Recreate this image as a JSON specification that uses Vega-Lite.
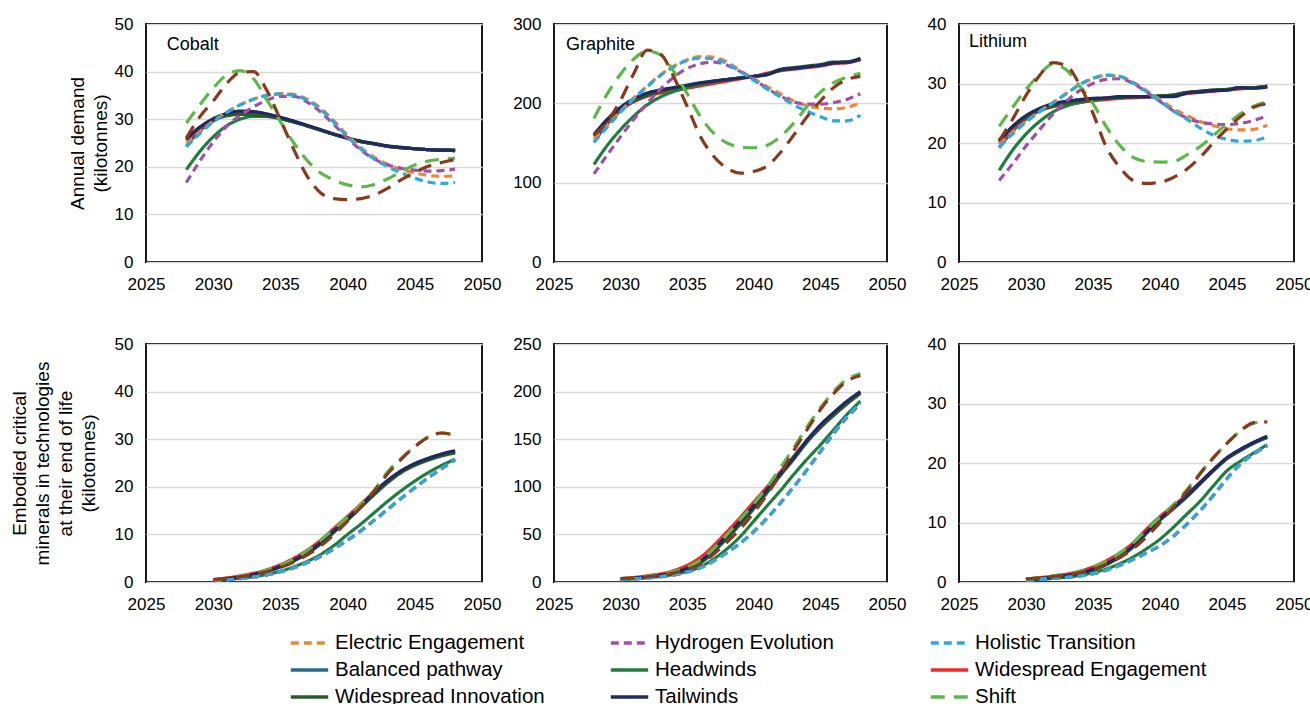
{
"$schema": "https://vega.github.io/schema/vega-lite/v6.json",
"padding": {"left": 9, "top": 14, "right": 0, "bottom": 0},
"config": {
  "font": "Liberation Sans",
  "view": {"stroke": "#000", "strokeWidth": 1.8},
  "axis": {"domain": false, "ticks": false, "labelFlush": false, "labelFontSize": 17, "labelColor": "#000", "titleFontSize": 19, "titleFontWeight": "normal", "titleColor": "#000", "titleLineHeight": 23},
  "axisX": {"grid": false, "labelPadding": 14},
  "axisY": {"grid": true, "gridColor": "#D9D9D9", "gridWidth": 1.3, "labelPadding": 13, "titlePadding": 6},
  "legend": {"symbolType": "stroke", "symbolSize": 1400, "symbolStrokeWidth": 3.5, "labelFontSize": 20.5, "labelColor": "#000", "labelOffset": 5, "labelLimit": 400, "rowPadding": 1, "clipHeight": 26, "columnPadding": 42, "gridAlign": "all"}
},
"data": {"values": [
{"p":"C1","s":"BP","x":2028,"y":24.3},{"p":"C1","s":"BP","x":2029,"y":27.5},{"p":"C1","s":"BP","x":2030,"y":29.6},{"p":"C1","s":"BP","x":2031,"y":30.9},{"p":"C1","s":"BP","x":2032,"y":31.5},{"p":"C1","s":"BP","x":2033,"y":31.5},{"p":"C1","s":"BP","x":2034,"y":31},{"p":"C1","s":"BP","x":2035,"y":30.3},{"p":"C1","s":"BP","x":2036,"y":29.5},{"p":"C1","s":"BP","x":2037,"y":28.6},{"p":"C1","s":"BP","x":2038,"y":27.7},{"p":"C1","s":"BP","x":2039,"y":26.8},{"p":"C1","s":"BP","x":2040,"y":26},{"p":"C1","s":"BP","x":2041,"y":25.3},{"p":"C1","s":"BP","x":2042,"y":24.8},{"p":"C1","s":"BP","x":2043,"y":24.3},{"p":"C1","s":"BP","x":2044,"y":24},{"p":"C1","s":"BP","x":2045,"y":23.8},{"p":"C1","s":"BP","x":2046,"y":23.6},{"p":"C1","s":"BP","x":2047,"y":23.5},{"p":"C1","s":"BP","x":2048,"y":23.5},
{"p":"C1","s":"WE","x":2028,"y":25.5},{"p":"C1","s":"WE","x":2029,"y":28},{"p":"C1","s":"WE","x":2030,"y":29.9},{"p":"C1","s":"WE","x":2031,"y":31},{"p":"C1","s":"WE","x":2032,"y":31.5},{"p":"C1","s":"WE","x":2033,"y":31.4},{"p":"C1","s":"WE","x":2034,"y":31},{"p":"C1","s":"WE","x":2035,"y":30.3},{"p":"C1","s":"WE","x":2036,"y":29.5},{"p":"C1","s":"WE","x":2037,"y":28.6},{"p":"C1","s":"WE","x":2038,"y":27.7},{"p":"C1","s":"WE","x":2039,"y":26.8},{"p":"C1","s":"WE","x":2040,"y":26},{"p":"C1","s":"WE","x":2041,"y":25.3},{"p":"C1","s":"WE","x":2042,"y":24.8},{"p":"C1","s":"WE","x":2043,"y":24.3},{"p":"C1","s":"WE","x":2044,"y":24},{"p":"C1","s":"WE","x":2045,"y":23.8},{"p":"C1","s":"WE","x":2046,"y":23.6},{"p":"C1","s":"WE","x":2047,"y":23.5},{"p":"C1","s":"WE","x":2048,"y":23.4},
{"p":"C1","s":"HW","x":2028,"y":19.4},{"p":"C1","s":"HW","x":2029,"y":23.2},{"p":"C1","s":"HW","x":2030,"y":26.3},{"p":"C1","s":"HW","x":2031,"y":28.6},{"p":"C1","s":"HW","x":2032,"y":30},{"p":"C1","s":"HW","x":2033,"y":30.6},{"p":"C1","s":"HW","x":2034,"y":30.6},{"p":"C1","s":"HW","x":2035,"y":30.2},{"p":"C1","s":"HW","x":2036,"y":29.4},{"p":"C1","s":"HW","x":2037,"y":28.6},{"p":"C1","s":"HW","x":2038,"y":27.7},{"p":"C1","s":"HW","x":2039,"y":26.8},{"p":"C1","s":"HW","x":2040,"y":26},{"p":"C1","s":"HW","x":2041,"y":25.3},{"p":"C1","s":"HW","x":2042,"y":24.8},{"p":"C1","s":"HW","x":2043,"y":24.3},{"p":"C1","s":"HW","x":2044,"y":24},{"p":"C1","s":"HW","x":2045,"y":23.8},{"p":"C1","s":"HW","x":2046,"y":23.6},{"p":"C1","s":"HW","x":2047,"y":23.5},{"p":"C1","s":"HW","x":2048,"y":23.4},
{"p":"C1","s":"WI","x":2028,"y":26},{"p":"C1","s":"WI","x":2029,"y":28.3},{"p":"C1","s":"WI","x":2030,"y":29.9},{"p":"C1","s":"WI","x":2031,"y":30.7},{"p":"C1","s":"WI","x":2032,"y":31},{"p":"C1","s":"WI","x":2033,"y":30.9},{"p":"C1","s":"WI","x":2034,"y":30.6},{"p":"C1","s":"WI","x":2035,"y":30.1},{"p":"C1","s":"WI","x":2036,"y":29.4},{"p":"C1","s":"WI","x":2037,"y":28.6},{"p":"C1","s":"WI","x":2038,"y":27.7},{"p":"C1","s":"WI","x":2039,"y":26.8},{"p":"C1","s":"WI","x":2040,"y":26},{"p":"C1","s":"WI","x":2041,"y":25.3},{"p":"C1","s":"WI","x":2042,"y":24.8},{"p":"C1","s":"WI","x":2043,"y":24.3},{"p":"C1","s":"WI","x":2044,"y":24},{"p":"C1","s":"WI","x":2045,"y":23.8},{"p":"C1","s":"WI","x":2046,"y":23.6},{"p":"C1","s":"WI","x":2047,"y":23.5},{"p":"C1","s":"WI","x":2048,"y":23.4},
{"p":"C1","s":"TW","x":2028,"y":25.8},{"p":"C1","s":"TW","x":2029,"y":28.3},{"p":"C1","s":"TW","x":2030,"y":30.1},{"p":"C1","s":"TW","x":2031,"y":31.2},{"p":"C1","s":"TW","x":2032,"y":31.7},{"p":"C1","s":"TW","x":2033,"y":31.6},{"p":"C1","s":"TW","x":2034,"y":31.1},{"p":"C1","s":"TW","x":2035,"y":30.4},{"p":"C1","s":"TW","x":2036,"y":29.6},{"p":"C1","s":"TW","x":2037,"y":28.7},{"p":"C1","s":"TW","x":2038,"y":27.8},{"p":"C1","s":"TW","x":2039,"y":26.9},{"p":"C1","s":"TW","x":2040,"y":26.1},{"p":"C1","s":"TW","x":2041,"y":25.4},{"p":"C1","s":"TW","x":2042,"y":24.9},{"p":"C1","s":"TW","x":2043,"y":24.4},{"p":"C1","s":"TW","x":2044,"y":24.1},{"p":"C1","s":"TW","x":2045,"y":23.8},{"p":"C1","s":"TW","x":2046,"y":23.6},{"p":"C1","s":"TW","x":2047,"y":23.5},{"p":"C1","s":"TW","x":2048,"y":23.5},
{"p":"C1","s":"EE","x":2028,"y":24.8},{"p":"C1","s":"EE","x":2029,"y":27.3},{"p":"C1","s":"EE","x":2030,"y":29.6},{"p":"C1","s":"EE","x":2031,"y":31.5},{"p":"C1","s":"EE","x":2032,"y":33},{"p":"C1","s":"EE","x":2033,"y":34.2},{"p":"C1","s":"EE","x":2034,"y":35},{"p":"C1","s":"EE","x":2035,"y":35.4},{"p":"C1","s":"EE","x":2036,"y":35.2},{"p":"C1","s":"EE","x":2037,"y":34.2},{"p":"C1","s":"EE","x":2038,"y":32.3},{"p":"C1","s":"EE","x":2039,"y":29.6},{"p":"C1","s":"EE","x":2040,"y":26.6},{"p":"C1","s":"EE","x":2041,"y":24},{"p":"C1","s":"EE","x":2042,"y":22},{"p":"C1","s":"EE","x":2043,"y":20.5},{"p":"C1","s":"EE","x":2044,"y":19.4},{"p":"C1","s":"EE","x":2045,"y":18.7},{"p":"C1","s":"EE","x":2046,"y":18.2},{"p":"C1","s":"EE","x":2047,"y":18},{"p":"C1","s":"EE","x":2048,"y":18.1},
{"p":"C1","s":"HE","x":2028,"y":16.7},{"p":"C1","s":"HE","x":2029,"y":21.2},{"p":"C1","s":"HE","x":2030,"y":25.2},{"p":"C1","s":"HE","x":2031,"y":28.5},{"p":"C1","s":"HE","x":2032,"y":30.8},{"p":"C1","s":"HE","x":2033,"y":32.6},{"p":"C1","s":"HE","x":2034,"y":34},{"p":"C1","s":"HE","x":2035,"y":34.8},{"p":"C1","s":"HE","x":2036,"y":34.8},{"p":"C1","s":"HE","x":2037,"y":33.6},{"p":"C1","s":"HE","x":2038,"y":31.5},{"p":"C1","s":"HE","x":2039,"y":28.8},{"p":"C1","s":"HE","x":2040,"y":26},{"p":"C1","s":"HE","x":2041,"y":23.5},{"p":"C1","s":"HE","x":2042,"y":21.6},{"p":"C1","s":"HE","x":2043,"y":20.4},{"p":"C1","s":"HE","x":2044,"y":19.7},{"p":"C1","s":"HE","x":2045,"y":19.3},{"p":"C1","s":"HE","x":2046,"y":19.1},{"p":"C1","s":"HE","x":2047,"y":19.2},{"p":"C1","s":"HE","x":2048,"y":19.5},
{"p":"C1","s":"HT","x":2028,"y":24.2},{"p":"C1","s":"HT","x":2029,"y":27},{"p":"C1","s":"HT","x":2030,"y":29.4},{"p":"C1","s":"HT","x":2031,"y":31.4},{"p":"C1","s":"HT","x":2032,"y":33},{"p":"C1","s":"HT","x":2033,"y":34.2},{"p":"C1","s":"HT","x":2034,"y":35},{"p":"C1","s":"HT","x":2035,"y":35.3},{"p":"C1","s":"HT","x":2036,"y":35},{"p":"C1","s":"HT","x":2037,"y":34},{"p":"C1","s":"HT","x":2038,"y":32},{"p":"C1","s":"HT","x":2039,"y":29.3},{"p":"C1","s":"HT","x":2040,"y":26.3},{"p":"C1","s":"HT","x":2041,"y":23.7},{"p":"C1","s":"HT","x":2042,"y":21.6},{"p":"C1","s":"HT","x":2043,"y":20},{"p":"C1","s":"HT","x":2044,"y":18.7},{"p":"C1","s":"HT","x":2045,"y":17.6},{"p":"C1","s":"HT","x":2046,"y":16.8},{"p":"C1","s":"HT","x":2047,"y":16.5},{"p":"C1","s":"HT","x":2048,"y":16.7},
{"p":"C1","s":"SH","x":2028,"y":29.2},{"p":"C1","s":"SH","x":2029,"y":33},{"p":"C1","s":"SH","x":2030,"y":36.5},{"p":"C1","s":"SH","x":2031,"y":39.3},{"p":"C1","s":"SH","x":2032,"y":40.2},{"p":"C1","s":"SH","x":2033,"y":38.5},{"p":"C1","s":"SH","x":2034,"y":34},{"p":"C1","s":"SH","x":2035,"y":29.5},{"p":"C1","s":"SH","x":2036,"y":25},{"p":"C1","s":"SH","x":2037,"y":21.3},{"p":"C1","s":"SH","x":2038,"y":18.7},{"p":"C1","s":"SH","x":2039,"y":17.2},{"p":"C1","s":"SH","x":2040,"y":16.2},{"p":"C1","s":"SH","x":2041,"y":15.8},{"p":"C1","s":"SH","x":2042,"y":16.3},{"p":"C1","s":"SH","x":2043,"y":17.5},{"p":"C1","s":"SH","x":2044,"y":19},{"p":"C1","s":"SH","x":2045,"y":20.4},{"p":"C1","s":"SH","x":2046,"y":21.2},{"p":"C1","s":"SH","x":2047,"y":21.6},{"p":"C1","s":"SH","x":2048,"y":21.8},
{"p":"C1","s":"BR","x":2028,"y":26},{"p":"C1","s":"BR","x":2029,"y":30.5},{"p":"C1","s":"BR","x":2030,"y":33.8},{"p":"C1","s":"BR","x":2031,"y":37.5},{"p":"C1","s":"BR","x":2032,"y":39.8},{"p":"C1","s":"BR","x":2033,"y":40},{"p":"C1","s":"BR","x":2034,"y":36},{"p":"C1","s":"BR","x":2035,"y":29.9},{"p":"C1","s":"BR","x":2036,"y":23.6},{"p":"C1","s":"BR","x":2037,"y":18},{"p":"C1","s":"BR","x":2038,"y":14.5},{"p":"C1","s":"BR","x":2039,"y":13.3},{"p":"C1","s":"BR","x":2040,"y":13.1},{"p":"C1","s":"BR","x":2041,"y":13.3},{"p":"C1","s":"BR","x":2042,"y":14.1},{"p":"C1","s":"BR","x":2043,"y":15.5},{"p":"C1","s":"BR","x":2044,"y":17.3},{"p":"C1","s":"BR","x":2045,"y":18.8},{"p":"C1","s":"BR","x":2046,"y":20.1},{"p":"C1","s":"BR","x":2047,"y":20.9},{"p":"C1","s":"BR","x":2048,"y":21.5},
{"p":"G1","s":"BP","x":2028,"y":151},{"p":"G1","s":"BP","x":2029,"y":174},{"p":"G1","s":"BP","x":2030,"y":191},{"p":"G1","s":"BP","x":2031,"y":203},{"p":"G1","s":"BP","x":2032,"y":211},{"p":"G1","s":"BP","x":2033,"y":216},{"p":"G1","s":"BP","x":2034,"y":219},{"p":"G1","s":"BP","x":2035,"y":222},{"p":"G1","s":"BP","x":2036,"y":225},{"p":"G1","s":"BP","x":2037,"y":228},{"p":"G1","s":"BP","x":2038,"y":230},{"p":"G1","s":"BP","x":2039,"y":232},{"p":"G1","s":"BP","x":2040,"y":234},{"p":"G1","s":"BP","x":2041,"y":237},{"p":"G1","s":"BP","x":2042,"y":242},{"p":"G1","s":"BP","x":2043,"y":244},{"p":"G1","s":"BP","x":2044,"y":246},{"p":"G1","s":"BP","x":2045,"y":248},{"p":"G1","s":"BP","x":2046,"y":251},{"p":"G1","s":"BP","x":2047,"y":252},{"p":"G1","s":"BP","x":2048,"y":255},
{"p":"G1","s":"WE","x":2028,"y":158},{"p":"G1","s":"WE","x":2029,"y":177},{"p":"G1","s":"WE","x":2030,"y":192},{"p":"G1","s":"WE","x":2031,"y":202},{"p":"G1","s":"WE","x":2032,"y":209},{"p":"G1","s":"WE","x":2033,"y":213},{"p":"G1","s":"WE","x":2034,"y":216},{"p":"G1","s":"WE","x":2035,"y":219},{"p":"G1","s":"WE","x":2036,"y":222},{"p":"G1","s":"WE","x":2037,"y":225},{"p":"G1","s":"WE","x":2038,"y":228},{"p":"G1","s":"WE","x":2039,"y":231},{"p":"G1","s":"WE","x":2040,"y":234},{"p":"G1","s":"WE","x":2041,"y":238},{"p":"G1","s":"WE","x":2042,"y":241},{"p":"G1","s":"WE","x":2043,"y":243},{"p":"G1","s":"WE","x":2044,"y":245},{"p":"G1","s":"WE","x":2045,"y":247},{"p":"G1","s":"WE","x":2046,"y":250},{"p":"G1","s":"WE","x":2047,"y":251},{"p":"G1","s":"WE","x":2048,"y":255},
{"p":"G1","s":"HW","x":2028,"y":123},{"p":"G1","s":"HW","x":2029,"y":147},{"p":"G1","s":"HW","x":2030,"y":167},{"p":"G1","s":"HW","x":2031,"y":184},{"p":"G1","s":"HW","x":2032,"y":198},{"p":"G1","s":"HW","x":2033,"y":208},{"p":"G1","s":"HW","x":2034,"y":215},{"p":"G1","s":"HW","x":2035,"y":220},{"p":"G1","s":"HW","x":2036,"y":224},{"p":"G1","s":"HW","x":2037,"y":227},{"p":"G1","s":"HW","x":2038,"y":230},{"p":"G1","s":"HW","x":2039,"y":232},{"p":"G1","s":"HW","x":2040,"y":234},{"p":"G1","s":"HW","x":2041,"y":237},{"p":"G1","s":"HW","x":2042,"y":242},{"p":"G1","s":"HW","x":2043,"y":244},{"p":"G1","s":"HW","x":2044,"y":246},{"p":"G1","s":"HW","x":2045,"y":248},{"p":"G1","s":"HW","x":2046,"y":251},{"p":"G1","s":"HW","x":2047,"y":252},{"p":"G1","s":"HW","x":2048,"y":256},
{"p":"G1","s":"WI","x":2028,"y":161},{"p":"G1","s":"WI","x":2029,"y":179},{"p":"G1","s":"WI","x":2030,"y":193},{"p":"G1","s":"WI","x":2031,"y":203},{"p":"G1","s":"WI","x":2032,"y":210},{"p":"G1","s":"WI","x":2033,"y":215},{"p":"G1","s":"WI","x":2034,"y":219},{"p":"G1","s":"WI","x":2035,"y":222},{"p":"G1","s":"WI","x":2036,"y":225},{"p":"G1","s":"WI","x":2037,"y":228},{"p":"G1","s":"WI","x":2038,"y":230},{"p":"G1","s":"WI","x":2039,"y":232},{"p":"G1","s":"WI","x":2040,"y":234},{"p":"G1","s":"WI","x":2041,"y":237},{"p":"G1","s":"WI","x":2042,"y":243},{"p":"G1","s":"WI","x":2043,"y":245},{"p":"G1","s":"WI","x":2044,"y":247},{"p":"G1","s":"WI","x":2045,"y":249},{"p":"G1","s":"WI","x":2046,"y":252},{"p":"G1","s":"WI","x":2047,"y":252},{"p":"G1","s":"WI","x":2048,"y":257},
{"p":"G1","s":"TW","x":2028,"y":160},{"p":"G1","s":"TW","x":2029,"y":180},{"p":"G1","s":"TW","x":2030,"y":195},{"p":"G1","s":"TW","x":2031,"y":206},{"p":"G1","s":"TW","x":2032,"y":213},{"p":"G1","s":"TW","x":2033,"y":217},{"p":"G1","s":"TW","x":2034,"y":220},{"p":"G1","s":"TW","x":2035,"y":223},{"p":"G1","s":"TW","x":2036,"y":226},{"p":"G1","s":"TW","x":2037,"y":228},{"p":"G1","s":"TW","x":2038,"y":230},{"p":"G1","s":"TW","x":2039,"y":232},{"p":"G1","s":"TW","x":2040,"y":234},{"p":"G1","s":"TW","x":2041,"y":236},{"p":"G1","s":"TW","x":2042,"y":242},{"p":"G1","s":"TW","x":2043,"y":244},{"p":"G1","s":"TW","x":2044,"y":246},{"p":"G1","s":"TW","x":2045,"y":248},{"p":"G1","s":"TW","x":2046,"y":251},{"p":"G1","s":"TW","x":2047,"y":252},{"p":"G1","s":"TW","x":2048,"y":256},
{"p":"G1","s":"EE","x":2028,"y":155},{"p":"G1","s":"EE","x":2029,"y":172},{"p":"G1","s":"EE","x":2030,"y":190},{"p":"G1","s":"EE","x":2031,"y":207},{"p":"G1","s":"EE","x":2032,"y":222},{"p":"G1","s":"EE","x":2033,"y":236},{"p":"G1","s":"EE","x":2034,"y":247},{"p":"G1","s":"EE","x":2035,"y":255},{"p":"G1","s":"EE","x":2036,"y":259},{"p":"G1","s":"EE","x":2037,"y":258},{"p":"G1","s":"EE","x":2038,"y":252},{"p":"G1","s":"EE","x":2039,"y":241},{"p":"G1","s":"EE","x":2040,"y":231},{"p":"G1","s":"EE","x":2041,"y":221},{"p":"G1","s":"EE","x":2042,"y":212},{"p":"G1","s":"EE","x":2043,"y":203},{"p":"G1","s":"EE","x":2044,"y":197},{"p":"G1","s":"EE","x":2045,"y":194},{"p":"G1","s":"EE","x":2046,"y":193},{"p":"G1","s":"EE","x":2047,"y":195},{"p":"G1","s":"EE","x":2048,"y":200},
{"p":"G1","s":"HE","x":2028,"y":111},{"p":"G1","s":"HE","x":2029,"y":135},{"p":"G1","s":"HE","x":2030,"y":158},{"p":"G1","s":"HE","x":2031,"y":180},{"p":"G1","s":"HE","x":2032,"y":200},{"p":"G1","s":"HE","x":2033,"y":218},{"p":"G1","s":"HE","x":2034,"y":233},{"p":"G1","s":"HE","x":2035,"y":244},{"p":"G1","s":"HE","x":2036,"y":250},{"p":"G1","s":"HE","x":2037,"y":252},{"p":"G1","s":"HE","x":2038,"y":248},{"p":"G1","s":"HE","x":2039,"y":240},{"p":"G1","s":"HE","x":2040,"y":230},{"p":"G1","s":"HE","x":2041,"y":219},{"p":"G1","s":"HE","x":2042,"y":209},{"p":"G1","s":"HE","x":2043,"y":202},{"p":"G1","s":"HE","x":2044,"y":199},{"p":"G1","s":"HE","x":2045,"y":199},{"p":"G1","s":"HE","x":2046,"y":201},{"p":"G1","s":"HE","x":2047,"y":205},{"p":"G1","s":"HE","x":2048,"y":212},
{"p":"G1","s":"HT","x":2028,"y":151},{"p":"G1","s":"HT","x":2029,"y":170},{"p":"G1","s":"HT","x":2030,"y":189},{"p":"G1","s":"HT","x":2031,"y":206},{"p":"G1","s":"HT","x":2032,"y":221},{"p":"G1","s":"HT","x":2033,"y":235},{"p":"G1","s":"HT","x":2034,"y":246},{"p":"G1","s":"HT","x":2035,"y":254},{"p":"G1","s":"HT","x":2036,"y":257},{"p":"G1","s":"HT","x":2037,"y":256},{"p":"G1","s":"HT","x":2038,"y":250},{"p":"G1","s":"HT","x":2039,"y":240},{"p":"G1","s":"HT","x":2040,"y":229},{"p":"G1","s":"HT","x":2041,"y":218},{"p":"G1","s":"HT","x":2042,"y":208},{"p":"G1","s":"HT","x":2043,"y":198},{"p":"G1","s":"HT","x":2044,"y":190},{"p":"G1","s":"HT","x":2045,"y":183},{"p":"G1","s":"HT","x":2046,"y":178},{"p":"G1","s":"HT","x":2047,"y":178},{"p":"G1","s":"HT","x":2048,"y":185},
{"p":"G1","s":"SH","x":2028,"y":181},{"p":"G1","s":"SH","x":2029,"y":212},{"p":"G1","s":"SH","x":2030,"y":237},{"p":"G1","s":"SH","x":2031,"y":256},{"p":"G1","s":"SH","x":2032,"y":266},{"p":"G1","s":"SH","x":2033,"y":261},{"p":"G1","s":"SH","x":2034,"y":240},{"p":"G1","s":"SH","x":2035,"y":212},{"p":"G1","s":"SH","x":2036,"y":183},{"p":"G1","s":"SH","x":2037,"y":162},{"p":"G1","s":"SH","x":2038,"y":150},{"p":"G1","s":"SH","x":2039,"y":145},{"p":"G1","s":"SH","x":2040,"y":144},{"p":"G1","s":"SH","x":2041,"y":147},{"p":"G1","s":"SH","x":2042,"y":158},{"p":"G1","s":"SH","x":2043,"y":175},{"p":"G1","s":"SH","x":2044,"y":196},{"p":"G1","s":"SH","x":2045,"y":214},{"p":"G1","s":"SH","x":2046,"y":226},{"p":"G1","s":"SH","x":2047,"y":233},{"p":"G1","s":"SH","x":2048,"y":238},
{"p":"G1","s":"BR","x":2028,"y":160},{"p":"G1","s":"BR","x":2029,"y":177},{"p":"G1","s":"BR","x":2030,"y":204},{"p":"G1","s":"BR","x":2031,"y":238},{"p":"G1","s":"BR","x":2032,"y":267},{"p":"G1","s":"BR","x":2033,"y":262},{"p":"G1","s":"BR","x":2034,"y":233},{"p":"G1","s":"BR","x":2035,"y":196},{"p":"G1","s":"BR","x":2036,"y":158},{"p":"G1","s":"BR","x":2037,"y":133},{"p":"G1","s":"BR","x":2038,"y":118},{"p":"G1","s":"BR","x":2039,"y":112},{"p":"G1","s":"BR","x":2040,"y":114},{"p":"G1","s":"BR","x":2041,"y":121},{"p":"G1","s":"BR","x":2042,"y":138},{"p":"G1","s":"BR","x":2043,"y":160},{"p":"G1","s":"BR","x":2044,"y":183},{"p":"G1","s":"BR","x":2045,"y":203},{"p":"G1","s":"BR","x":2046,"y":220},{"p":"G1","s":"BR","x":2047,"y":230},{"p":"G1","s":"BR","x":2048,"y":234},
{"p":"L1","s":"BP","x":2028,"y":19.2},{"p":"L1","s":"BP","x":2029,"y":22},{"p":"L1","s":"BP","x":2030,"y":24},{"p":"L1","s":"BP","x":2031,"y":25.5},{"p":"L1","s":"BP","x":2032,"y":26.5},{"p":"L1","s":"BP","x":2033,"y":27},{"p":"L1","s":"BP","x":2034,"y":27.2},{"p":"L1","s":"BP","x":2035,"y":27.3},{"p":"L1","s":"BP","x":2036,"y":27.5},{"p":"L1","s":"BP","x":2037,"y":27.7},{"p":"L1","s":"BP","x":2038,"y":27.8},{"p":"L1","s":"BP","x":2039,"y":27.8},{"p":"L1","s":"BP","x":2040,"y":27.9},{"p":"L1","s":"BP","x":2041,"y":28},{"p":"L1","s":"BP","x":2042,"y":28.4},{"p":"L1","s":"BP","x":2043,"y":28.6},{"p":"L1","s":"BP","x":2044,"y":28.8},{"p":"L1","s":"BP","x":2045,"y":28.9},{"p":"L1","s":"BP","x":2046,"y":29.2},{"p":"L1","s":"BP","x":2047,"y":29.3},{"p":"L1","s":"BP","x":2048,"y":29.5},
{"p":"L1","s":"WE","x":2028,"y":20},{"p":"L1","s":"WE","x":2029,"y":22.4},{"p":"L1","s":"WE","x":2030,"y":24.2},{"p":"L1","s":"WE","x":2031,"y":25.4},{"p":"L1","s":"WE","x":2032,"y":26.1},{"p":"L1","s":"WE","x":2033,"y":26.5},{"p":"L1","s":"WE","x":2034,"y":26.8},{"p":"L1","s":"WE","x":2035,"y":27.1},{"p":"L1","s":"WE","x":2036,"y":27.3},{"p":"L1","s":"WE","x":2037,"y":27.5},{"p":"L1","s":"WE","x":2038,"y":27.6},{"p":"L1","s":"WE","x":2039,"y":27.7},{"p":"L1","s":"WE","x":2040,"y":27.8},{"p":"L1","s":"WE","x":2041,"y":28},{"p":"L1","s":"WE","x":2042,"y":28.3},{"p":"L1","s":"WE","x":2043,"y":28.5},{"p":"L1","s":"WE","x":2044,"y":28.7},{"p":"L1","s":"WE","x":2045,"y":28.9},{"p":"L1","s":"WE","x":2046,"y":29.1},{"p":"L1","s":"WE","x":2047,"y":29.3},{"p":"L1","s":"WE","x":2048,"y":29.5},
{"p":"L1","s":"HW","x":2028,"y":15.4},{"p":"L1","s":"HW","x":2029,"y":18.8},{"p":"L1","s":"HW","x":2030,"y":21.5},{"p":"L1","s":"HW","x":2031,"y":23.6},{"p":"L1","s":"HW","x":2032,"y":25.2},{"p":"L1","s":"HW","x":2033,"y":26.2},{"p":"L1","s":"HW","x":2034,"y":26.8},{"p":"L1","s":"HW","x":2035,"y":27.2},{"p":"L1","s":"HW","x":2036,"y":27.5},{"p":"L1","s":"HW","x":2037,"y":27.7},{"p":"L1","s":"HW","x":2038,"y":27.8},{"p":"L1","s":"HW","x":2039,"y":27.8},{"p":"L1","s":"HW","x":2040,"y":27.9},{"p":"L1","s":"HW","x":2041,"y":28.1},{"p":"L1","s":"HW","x":2042,"y":28.5},{"p":"L1","s":"HW","x":2043,"y":28.7},{"p":"L1","s":"HW","x":2044,"y":28.9},{"p":"L1","s":"HW","x":2045,"y":29},{"p":"L1","s":"HW","x":2046,"y":29.3},{"p":"L1","s":"HW","x":2047,"y":29.3},{"p":"L1","s":"HW","x":2048,"y":29.6},
{"p":"L1","s":"WI","x":2028,"y":20.5},{"p":"L1","s":"WI","x":2029,"y":22.7},{"p":"L1","s":"WI","x":2030,"y":24.3},{"p":"L1","s":"WI","x":2031,"y":25.4},{"p":"L1","s":"WI","x":2032,"y":26.2},{"p":"L1","s":"WI","x":2033,"y":26.7},{"p":"L1","s":"WI","x":2034,"y":27},{"p":"L1","s":"WI","x":2035,"y":27.3},{"p":"L1","s":"WI","x":2036,"y":27.5},{"p":"L1","s":"WI","x":2037,"y":27.7},{"p":"L1","s":"WI","x":2038,"y":27.8},{"p":"L1","s":"WI","x":2039,"y":27.8},{"p":"L1","s":"WI","x":2040,"y":27.9},{"p":"L1","s":"WI","x":2041,"y":28.1},{"p":"L1","s":"WI","x":2042,"y":28.5},{"p":"L1","s":"WI","x":2043,"y":28.7},{"p":"L1","s":"WI","x":2044,"y":28.9},{"p":"L1","s":"WI","x":2045,"y":29},{"p":"L1","s":"WI","x":2046,"y":29.3},{"p":"L1","s":"WI","x":2047,"y":29.3},{"p":"L1","s":"WI","x":2048,"y":29.6},
{"p":"L1","s":"TW","x":2028,"y":20.3},{"p":"L1","s":"TW","x":2029,"y":22.8},{"p":"L1","s":"TW","x":2030,"y":24.6},{"p":"L1","s":"TW","x":2031,"y":25.8},{"p":"L1","s":"TW","x":2032,"y":26.6},{"p":"L1","s":"TW","x":2033,"y":27},{"p":"L1","s":"TW","x":2034,"y":27.3},{"p":"L1","s":"TW","x":2035,"y":27.5},{"p":"L1","s":"TW","x":2036,"y":27.6},{"p":"L1","s":"TW","x":2037,"y":27.8},{"p":"L1","s":"TW","x":2038,"y":27.8},{"p":"L1","s":"TW","x":2039,"y":27.8},{"p":"L1","s":"TW","x":2040,"y":27.8},{"p":"L1","s":"TW","x":2041,"y":27.8},{"p":"L1","s":"TW","x":2042,"y":28.4},{"p":"L1","s":"TW","x":2043,"y":28.6},{"p":"L1","s":"TW","x":2044,"y":28.8},{"p":"L1","s":"TW","x":2045,"y":28.9},{"p":"L1","s":"TW","x":2046,"y":29.3},{"p":"L1","s":"TW","x":2047,"y":29.2},{"p":"L1","s":"TW","x":2048,"y":29.4},
{"p":"L1","s":"EE","x":2028,"y":19.8},{"p":"L1","s":"EE","x":2029,"y":21.8},{"p":"L1","s":"EE","x":2030,"y":23.6},{"p":"L1","s":"EE","x":2031,"y":25.3},{"p":"L1","s":"EE","x":2032,"y":26.8},{"p":"L1","s":"EE","x":2033,"y":28.3},{"p":"L1","s":"EE","x":2034,"y":29.8},{"p":"L1","s":"EE","x":2035,"y":30.8},{"p":"L1","s":"EE","x":2036,"y":31.4},{"p":"L1","s":"EE","x":2037,"y":31.2},{"p":"L1","s":"EE","x":2038,"y":30.2},{"p":"L1","s":"EE","x":2039,"y":28.8},{"p":"L1","s":"EE","x":2040,"y":27.3},{"p":"L1","s":"EE","x":2041,"y":25.8},{"p":"L1","s":"EE","x":2042,"y":24.6},{"p":"L1","s":"EE","x":2043,"y":23.6},{"p":"L1","s":"EE","x":2044,"y":22.9},{"p":"L1","s":"EE","x":2045,"y":22.4},{"p":"L1","s":"EE","x":2046,"y":22.2},{"p":"L1","s":"EE","x":2047,"y":22.3},{"p":"L1","s":"EE","x":2048,"y":23},
{"p":"L1","s":"HE","x":2028,"y":13.7},{"p":"L1","s":"HE","x":2029,"y":16.5},{"p":"L1","s":"HE","x":2030,"y":19.5},{"p":"L1","s":"HE","x":2031,"y":22.2},{"p":"L1","s":"HE","x":2032,"y":24.8},{"p":"L1","s":"HE","x":2033,"y":27},{"p":"L1","s":"HE","x":2034,"y":28.8},{"p":"L1","s":"HE","x":2035,"y":30},{"p":"L1","s":"HE","x":2036,"y":30.7},{"p":"L1","s":"HE","x":2037,"y":30.8},{"p":"L1","s":"HE","x":2038,"y":30},{"p":"L1","s":"HE","x":2039,"y":28.5},{"p":"L1","s":"HE","x":2040,"y":27},{"p":"L1","s":"HE","x":2041,"y":25.4},{"p":"L1","s":"HE","x":2042,"y":24.2},{"p":"L1","s":"HE","x":2043,"y":23.5},{"p":"L1","s":"HE","x":2044,"y":23.2},{"p":"L1","s":"HE","x":2045,"y":23.1},{"p":"L1","s":"HE","x":2046,"y":23.3},{"p":"L1","s":"HE","x":2047,"y":23.8},{"p":"L1","s":"HE","x":2048,"y":24.6},
{"p":"L1","s":"HT","x":2028,"y":19.3},{"p":"L1","s":"HT","x":2029,"y":21.5},{"p":"L1","s":"HT","x":2030,"y":23.5},{"p":"L1","s":"HT","x":2031,"y":25.2},{"p":"L1","s":"HT","x":2032,"y":26.7},{"p":"L1","s":"HT","x":2033,"y":28.3},{"p":"L1","s":"HT","x":2034,"y":29.8},{"p":"L1","s":"HT","x":2035,"y":30.9},{"p":"L1","s":"HT","x":2036,"y":31.4},{"p":"L1","s":"HT","x":2037,"y":31.2},{"p":"L1","s":"HT","x":2038,"y":30.1},{"p":"L1","s":"HT","x":2039,"y":28.6},{"p":"L1","s":"HT","x":2040,"y":27},{"p":"L1","s":"HT","x":2041,"y":25.4},{"p":"L1","s":"HT","x":2042,"y":24},{"p":"L1","s":"HT","x":2043,"y":22.5},{"p":"L1","s":"HT","x":2044,"y":21.3},{"p":"L1","s":"HT","x":2045,"y":20.6},{"p":"L1","s":"HT","x":2046,"y":20.3},{"p":"L1","s":"HT","x":2047,"y":20.4},{"p":"L1","s":"HT","x":2048,"y":21},
{"p":"L1","s":"SH","x":2028,"y":22.8},{"p":"L1","s":"SH","x":2029,"y":26},{"p":"L1","s":"SH","x":2030,"y":29},{"p":"L1","s":"SH","x":2031,"y":31.5},{"p":"L1","s":"SH","x":2032,"y":33.3},{"p":"L1","s":"SH","x":2033,"y":32.3},{"p":"L1","s":"SH","x":2034,"y":29.6},{"p":"L1","s":"SH","x":2035,"y":26.6},{"p":"L1","s":"SH","x":2036,"y":22.7},{"p":"L1","s":"SH","x":2037,"y":19.6},{"p":"L1","s":"SH","x":2038,"y":17.6},{"p":"L1","s":"SH","x":2039,"y":16.9},{"p":"L1","s":"SH","x":2040,"y":16.8},{"p":"L1","s":"SH","x":2041,"y":16.9},{"p":"L1","s":"SH","x":2042,"y":18},{"p":"L1","s":"SH","x":2043,"y":19.4},{"p":"L1","s":"SH","x":2044,"y":21.3},{"p":"L1","s":"SH","x":2045,"y":23.2},{"p":"L1","s":"SH","x":2046,"y":24.9},{"p":"L1","s":"SH","x":2047,"y":26.2},{"p":"L1","s":"SH","x":2048,"y":26.9},
{"p":"L1","s":"BR","x":2028,"y":20.4},{"p":"L1","s":"BR","x":2029,"y":24},{"p":"L1","s":"BR","x":2030,"y":28},{"p":"L1","s":"BR","x":2031,"y":31.3},{"p":"L1","s":"BR","x":2032,"y":33.5},{"p":"L1","s":"BR","x":2033,"y":33},{"p":"L1","s":"BR","x":2034,"y":29.8},{"p":"L1","s":"BR","x":2035,"y":25},{"p":"L1","s":"BR","x":2036,"y":19.3},{"p":"L1","s":"BR","x":2037,"y":15.9},{"p":"L1","s":"BR","x":2038,"y":13.7},{"p":"L1","s":"BR","x":2039,"y":13.2},{"p":"L1","s":"BR","x":2040,"y":13.4},{"p":"L1","s":"BR","x":2041,"y":14.2},{"p":"L1","s":"BR","x":2042,"y":15.6},{"p":"L1","s":"BR","x":2043,"y":17.6},{"p":"L1","s":"BR","x":2044,"y":20.1},{"p":"L1","s":"BR","x":2045,"y":22.4},{"p":"L1","s":"BR","x":2046,"y":24.4},{"p":"L1","s":"BR","x":2047,"y":26},{"p":"L1","s":"BR","x":2048,"y":26.6},
{"p":"C2","s":"BP","x":2030,"y":0.4},{"p":"C2","s":"BP","x":2032,"y":1.1},{"p":"C2","s":"BP","x":2034,"y":2.3},{"p":"C2","s":"BP","x":2036,"y":4.5},{"p":"C2","s":"BP","x":2038,"y":8.1},{"p":"C2","s":"BP","x":2039,"y":10.6},{"p":"C2","s":"BP","x":2040,"y":13.1},{"p":"C2","s":"BP","x":2041,"y":15.8},{"p":"C2","s":"BP","x":2042,"y":18.6},{"p":"C2","s":"BP","x":2043,"y":21.1},{"p":"C2","s":"BP","x":2044,"y":23.2},{"p":"C2","s":"BP","x":2045,"y":24.7},{"p":"C2","s":"BP","x":2046,"y":25.8},{"p":"C2","s":"BP","x":2047,"y":26.7},{"p":"C2","s":"BP","x":2048,"y":27.4},
{"p":"C2","s":"WE","x":2030,"y":0.5},{"p":"C2","s":"WE","x":2032,"y":1.3},{"p":"C2","s":"WE","x":2034,"y":2.6},{"p":"C2","s":"WE","x":2036,"y":5},{"p":"C2","s":"WE","x":2038,"y":8.8},{"p":"C2","s":"WE","x":2039,"y":11.3},{"p":"C2","s":"WE","x":2040,"y":13.8},{"p":"C2","s":"WE","x":2041,"y":16.4},{"p":"C2","s":"WE","x":2042,"y":19},{"p":"C2","s":"WE","x":2043,"y":21.3},{"p":"C2","s":"WE","x":2044,"y":23.2},{"p":"C2","s":"WE","x":2045,"y":24.7},{"p":"C2","s":"WE","x":2046,"y":25.8},{"p":"C2","s":"WE","x":2047,"y":26.7},{"p":"C2","s":"WE","x":2048,"y":27.3},
{"p":"C2","s":"HW","x":2030,"y":0.3},{"p":"C2","s":"HW","x":2032,"y":0.8},{"p":"C2","s":"HW","x":2034,"y":1.6},{"p":"C2","s":"HW","x":2036,"y":3.2},{"p":"C2","s":"HW","x":2038,"y":5.8},{"p":"C2","s":"HW","x":2039,"y":7.7},{"p":"C2","s":"HW","x":2040,"y":10},{"p":"C2","s":"HW","x":2041,"y":12.2},{"p":"C2","s":"HW","x":2042,"y":14.6},{"p":"C2","s":"HW","x":2043,"y":17},{"p":"C2","s":"HW","x":2044,"y":19.2},{"p":"C2","s":"HW","x":2045,"y":21.2},{"p":"C2","s":"HW","x":2046,"y":23},{"p":"C2","s":"HW","x":2047,"y":24.5},{"p":"C2","s":"HW","x":2048,"y":25.8},
{"p":"C2","s":"WI","x":2030,"y":0.4},{"p":"C2","s":"WI","x":2032,"y":1},{"p":"C2","s":"WI","x":2034,"y":2.2},{"p":"C2","s":"WI","x":2036,"y":4.4},{"p":"C2","s":"WI","x":2038,"y":8},{"p":"C2","s":"WI","x":2039,"y":10.5},{"p":"C2","s":"WI","x":2040,"y":13},{"p":"C2","s":"WI","x":2041,"y":15.7},{"p":"C2","s":"WI","x":2042,"y":18.4},{"p":"C2","s":"WI","x":2043,"y":20.9},{"p":"C2","s":"WI","x":2044,"y":23},{"p":"C2","s":"WI","x":2045,"y":24.5},{"p":"C2","s":"WI","x":2046,"y":25.6},{"p":"C2","s":"WI","x":2047,"y":26.5},{"p":"C2","s":"WI","x":2048,"y":27.1},
{"p":"C2","s":"TW","x":2030,"y":0.4},{"p":"C2","s":"TW","x":2032,"y":1.1},{"p":"C2","s":"TW","x":2034,"y":2.3},{"p":"C2","s":"TW","x":2036,"y":4.6},{"p":"C2","s":"TW","x":2038,"y":8.3},{"p":"C2","s":"TW","x":2039,"y":10.8},{"p":"C2","s":"TW","x":2040,"y":13.3},{"p":"C2","s":"TW","x":2041,"y":16},{"p":"C2","s":"TW","x":2042,"y":18.9},{"p":"C2","s":"TW","x":2043,"y":21.4},{"p":"C2","s":"TW","x":2044,"y":23.4},{"p":"C2","s":"TW","x":2045,"y":24.9},{"p":"C2","s":"TW","x":2046,"y":26},{"p":"C2","s":"TW","x":2047,"y":26.9},{"p":"C2","s":"TW","x":2048,"y":27.6},
{"p":"C2","s":"EE","x":2030,"y":0.3},{"p":"C2","s":"EE","x":2032,"y":0.7},{"p":"C2","s":"EE","x":2034,"y":1.5},{"p":"C2","s":"EE","x":2036,"y":3},{"p":"C2","s":"EE","x":2038,"y":5.4},{"p":"C2","s":"EE","x":2039,"y":7},{"p":"C2","s":"EE","x":2040,"y":8.8},{"p":"C2","s":"EE","x":2041,"y":10.8},{"p":"C2","s":"EE","x":2042,"y":13},{"p":"C2","s":"EE","x":2043,"y":15.3},{"p":"C2","s":"EE","x":2044,"y":17.6},{"p":"C2","s":"EE","x":2045,"y":19.8},{"p":"C2","s":"EE","x":2046,"y":21.9},{"p":"C2","s":"EE","x":2047,"y":23.8},{"p":"C2","s":"EE","x":2048,"y":25.7},
{"p":"C2","s":"HE","x":2030,"y":0.3},{"p":"C2","s":"HE","x":2032,"y":0.7},{"p":"C2","s":"HE","x":2034,"y":1.5},{"p":"C2","s":"HE","x":2036,"y":3},{"p":"C2","s":"HE","x":2038,"y":5.4},{"p":"C2","s":"HE","x":2039,"y":7},{"p":"C2","s":"HE","x":2040,"y":8.8},{"p":"C2","s":"HE","x":2041,"y":10.8},{"p":"C2","s":"HE","x":2042,"y":13},{"p":"C2","s":"HE","x":2043,"y":15.3},{"p":"C2","s":"HE","x":2044,"y":17.6},{"p":"C2","s":"HE","x":2045,"y":19.8},{"p":"C2","s":"HE","x":2046,"y":21.9},{"p":"C2","s":"HE","x":2047,"y":23.8},{"p":"C2","s":"HE","x":2048,"y":25.7},
{"p":"C2","s":"HT","x":2030,"y":0.3},{"p":"C2","s":"HT","x":2032,"y":0.7},{"p":"C2","s":"HT","x":2034,"y":1.5},{"p":"C2","s":"HT","x":2036,"y":3},{"p":"C2","s":"HT","x":2038,"y":5.4},{"p":"C2","s":"HT","x":2039,"y":7},{"p":"C2","s":"HT","x":2040,"y":8.8},{"p":"C2","s":"HT","x":2041,"y":10.8},{"p":"C2","s":"HT","x":2042,"y":13},{"p":"C2","s":"HT","x":2043,"y":15.3},{"p":"C2","s":"HT","x":2044,"y":17.6},{"p":"C2","s":"HT","x":2045,"y":19.8},{"p":"C2","s":"HT","x":2046,"y":21.9},{"p":"C2","s":"HT","x":2047,"y":23.9},{"p":"C2","s":"HT","x":2048,"y":25.8},
{"p":"C2","s":"SH","x":2030,"y":0.5},{"p":"C2","s":"SH","x":2032,"y":1.2},{"p":"C2","s":"SH","x":2034,"y":2.5},{"p":"C2","s":"SH","x":2036,"y":4.8},{"p":"C2","s":"SH","x":2038,"y":8.8},{"p":"C2","s":"SH","x":2039,"y":11.2},{"p":"C2","s":"SH","x":2040,"y":13.6},{"p":"C2","s":"SH","x":2041,"y":16.3},{"p":"C2","s":"SH","x":2042,"y":19.3},{"p":"C2","s":"SH","x":2043,"y":23.2},{"p":"C2","s":"SH","x":2044,"y":26},{"p":"C2","s":"SH","x":2045,"y":28.5},{"p":"C2","s":"SH","x":2046,"y":30.5},{"p":"C2","s":"SH","x":2047,"y":31.3},{"p":"C2","s":"SH","x":2048,"y":30.8},
{"p":"C2","s":"BR","x":2030,"y":0.5},{"p":"C2","s":"BR","x":2032,"y":1.1},{"p":"C2","s":"BR","x":2034,"y":2.2},{"p":"C2","s":"BR","x":2036,"y":4.2},{"p":"C2","s":"BR","x":2038,"y":7.6},{"p":"C2","s":"BR","x":2039,"y":10},{"p":"C2","s":"BR","x":2040,"y":12.8},{"p":"C2","s":"BR","x":2041,"y":15.8},{"p":"C2","s":"BR","x":2042,"y":19.2},{"p":"C2","s":"BR","x":2043,"y":22.8},{"p":"C2","s":"BR","x":2044,"y":25.8},{"p":"C2","s":"BR","x":2045,"y":28.4},{"p":"C2","s":"BR","x":2046,"y":30.4},{"p":"C2","s":"BR","x":2047,"y":31.3},{"p":"C2","s":"BR","x":2048,"y":30.8},
{"p":"G2","s":"BP","x":2030,"y":3},{"p":"G2","s":"BP","x":2032,"y":5.5},{"p":"G2","s":"BP","x":2034,"y":10},{"p":"G2","s":"BP","x":2036,"y":21},{"p":"G2","s":"BP","x":2038,"y":47},{"p":"G2","s":"BP","x":2039,"y":62},{"p":"G2","s":"BP","x":2040,"y":78},{"p":"G2","s":"BP","x":2041,"y":95},{"p":"G2","s":"BP","x":2042,"y":113},{"p":"G2","s":"BP","x":2043,"y":130},{"p":"G2","s":"BP","x":2044,"y":148},{"p":"G2","s":"BP","x":2045,"y":163},{"p":"G2","s":"BP","x":2046,"y":176},{"p":"G2","s":"BP","x":2047,"y":188},{"p":"G2","s":"BP","x":2048,"y":199},
{"p":"G2","s":"WE","x":2030,"y":3.5},{"p":"G2","s":"WE","x":2032,"y":6.5},{"p":"G2","s":"WE","x":2034,"y":12},{"p":"G2","s":"WE","x":2036,"y":26},{"p":"G2","s":"WE","x":2038,"y":53},{"p":"G2","s":"WE","x":2039,"y":68},{"p":"G2","s":"WE","x":2040,"y":84},{"p":"G2","s":"WE","x":2041,"y":100},{"p":"G2","s":"WE","x":2042,"y":116},{"p":"G2","s":"WE","x":2043,"y":132},{"p":"G2","s":"WE","x":2044,"y":149},{"p":"G2","s":"WE","x":2045,"y":164},{"p":"G2","s":"WE","x":2046,"y":177},{"p":"G2","s":"WE","x":2047,"y":189},{"p":"G2","s":"WE","x":2048,"y":198},
{"p":"G2","s":"HW","x":2030,"y":2.5},{"p":"G2","s":"HW","x":2032,"y":4.5},{"p":"G2","s":"HW","x":2034,"y":8},{"p":"G2","s":"HW","x":2036,"y":16},{"p":"G2","s":"HW","x":2038,"y":35},{"p":"G2","s":"HW","x":2039,"y":48},{"p":"G2","s":"HW","x":2040,"y":64},{"p":"G2","s":"HW","x":2041,"y":80},{"p":"G2","s":"HW","x":2042,"y":96},{"p":"G2","s":"HW","x":2043,"y":113},{"p":"G2","s":"HW","x":2044,"y":129},{"p":"G2","s":"HW","x":2045,"y":144},{"p":"G2","s":"HW","x":2046,"y":160},{"p":"G2","s":"HW","x":2047,"y":176},{"p":"G2","s":"HW","x":2048,"y":190},
{"p":"G2","s":"WI","x":2030,"y":3},{"p":"G2","s":"WI","x":2032,"y":5.3},{"p":"G2","s":"WI","x":2034,"y":9.5},{"p":"G2","s":"WI","x":2036,"y":20},{"p":"G2","s":"WI","x":2038,"y":46},{"p":"G2","s":"WI","x":2039,"y":61},{"p":"G2","s":"WI","x":2040,"y":77},{"p":"G2","s":"WI","x":2041,"y":94},{"p":"G2","s":"WI","x":2042,"y":112},{"p":"G2","s":"WI","x":2043,"y":129},{"p":"G2","s":"WI","x":2044,"y":147},{"p":"G2","s":"WI","x":2045,"y":162},{"p":"G2","s":"WI","x":2046,"y":175},{"p":"G2","s":"WI","x":2047,"y":187},{"p":"G2","s":"WI","x":2048,"y":198},
{"p":"G2","s":"TW","x":2030,"y":3},{"p":"G2","s":"TW","x":2032,"y":5.5},{"p":"G2","s":"TW","x":2034,"y":10},{"p":"G2","s":"TW","x":2036,"y":22},{"p":"G2","s":"TW","x":2038,"y":49},{"p":"G2","s":"TW","x":2039,"y":64},{"p":"G2","s":"TW","x":2040,"y":80},{"p":"G2","s":"TW","x":2041,"y":97},{"p":"G2","s":"TW","x":2042,"y":114},{"p":"G2","s":"TW","x":2043,"y":131},{"p":"G2","s":"TW","x":2044,"y":149},{"p":"G2","s":"TW","x":2045,"y":165},{"p":"G2","s":"TW","x":2046,"y":178},{"p":"G2","s":"TW","x":2047,"y":190},{"p":"G2","s":"TW","x":2048,"y":200},
{"p":"G2","s":"EE","x":2030,"y":2.5},{"p":"G2","s":"EE","x":2032,"y":4.2},{"p":"G2","s":"EE","x":2034,"y":7.5},{"p":"G2","s":"EE","x":2036,"y":15},{"p":"G2","s":"EE","x":2038,"y":31},{"p":"G2","s":"EE","x":2039,"y":41},{"p":"G2","s":"EE","x":2040,"y":53},{"p":"G2","s":"EE","x":2041,"y":67},{"p":"G2","s":"EE","x":2042,"y":83},{"p":"G2","s":"EE","x":2043,"y":100},{"p":"G2","s":"EE","x":2044,"y":118},{"p":"G2","s":"EE","x":2045,"y":137},{"p":"G2","s":"EE","x":2046,"y":156},{"p":"G2","s":"EE","x":2047,"y":173},{"p":"G2","s":"EE","x":2048,"y":187},
{"p":"G2","s":"HE","x":2030,"y":2.5},{"p":"G2","s":"HE","x":2032,"y":4.2},{"p":"G2","s":"HE","x":2034,"y":7.5},{"p":"G2","s":"HE","x":2036,"y":15},{"p":"G2","s":"HE","x":2038,"y":31},{"p":"G2","s":"HE","x":2039,"y":41},{"p":"G2","s":"HE","x":2040,"y":53},{"p":"G2","s":"HE","x":2041,"y":67},{"p":"G2","s":"HE","x":2042,"y":83},{"p":"G2","s":"HE","x":2043,"y":100},{"p":"G2","s":"HE","x":2044,"y":118},{"p":"G2","s":"HE","x":2045,"y":137},{"p":"G2","s":"HE","x":2046,"y":156},{"p":"G2","s":"HE","x":2047,"y":173},{"p":"G2","s":"HE","x":2048,"y":187},
{"p":"G2","s":"HT","x":2030,"y":2.5},{"p":"G2","s":"HT","x":2032,"y":4.2},{"p":"G2","s":"HT","x":2034,"y":7.5},{"p":"G2","s":"HT","x":2036,"y":15},{"p":"G2","s":"HT","x":2038,"y":31},{"p":"G2","s":"HT","x":2039,"y":41},{"p":"G2","s":"HT","x":2040,"y":53},{"p":"G2","s":"HT","x":2041,"y":67},{"p":"G2","s":"HT","x":2042,"y":83},{"p":"G2","s":"HT","x":2043,"y":100},{"p":"G2","s":"HT","x":2044,"y":118},{"p":"G2","s":"HT","x":2045,"y":137},{"p":"G2","s":"HT","x":2046,"y":157},{"p":"G2","s":"HT","x":2047,"y":174},{"p":"G2","s":"HT","x":2048,"y":188},
{"p":"G2","s":"SH","x":2030,"y":3.5},{"p":"G2","s":"SH","x":2032,"y":6},{"p":"G2","s":"SH","x":2034,"y":11},{"p":"G2","s":"SH","x":2036,"y":23},{"p":"G2","s":"SH","x":2038,"y":50},{"p":"G2","s":"SH","x":2039,"y":66},{"p":"G2","s":"SH","x":2040,"y":82},{"p":"G2","s":"SH","x":2041,"y":100},{"p":"G2","s":"SH","x":2042,"y":120},{"p":"G2","s":"SH","x":2043,"y":141},{"p":"G2","s":"SH","x":2044,"y":163},{"p":"G2","s":"SH","x":2045,"y":183},{"p":"G2","s":"SH","x":2046,"y":200},{"p":"G2","s":"SH","x":2047,"y":213},{"p":"G2","s":"SH","x":2048,"y":219},
{"p":"G2","s":"BR","x":2030,"y":3.5},{"p":"G2","s":"BR","x":2032,"y":5.5},{"p":"G2","s":"BR","x":2034,"y":9.5},{"p":"G2","s":"BR","x":2036,"y":19},{"p":"G2","s":"BR","x":2038,"y":42},{"p":"G2","s":"BR","x":2039,"y":56},{"p":"G2","s":"BR","x":2040,"y":73},{"p":"G2","s":"BR","x":2041,"y":92},{"p":"G2","s":"BR","x":2042,"y":114},{"p":"G2","s":"BR","x":2043,"y":138},{"p":"G2","s":"BR","x":2044,"y":160},{"p":"G2","s":"BR","x":2045,"y":181},{"p":"G2","s":"BR","x":2046,"y":198},{"p":"G2","s":"BR","x":2047,"y":211},{"p":"G2","s":"BR","x":2048,"y":217},
{"p":"L2","s":"BP","x":2030,"y":0.4},{"p":"L2","s":"BP","x":2032,"y":0.8},{"p":"L2","s":"BP","x":2034,"y":1.5},{"p":"L2","s":"BP","x":2036,"y":3},{"p":"L2","s":"BP","x":2038,"y":6},{"p":"L2","s":"BP","x":2039,"y":8.3},{"p":"L2","s":"BP","x":2040,"y":10.5},{"p":"L2","s":"BP","x":2041,"y":12.4},{"p":"L2","s":"BP","x":2042,"y":14.4},{"p":"L2","s":"BP","x":2043,"y":16.6},{"p":"L2","s":"BP","x":2044,"y":18.8},{"p":"L2","s":"BP","x":2045,"y":20.8},{"p":"L2","s":"BP","x":2046,"y":22.2},{"p":"L2","s":"BP","x":2047,"y":23.4},{"p":"L2","s":"BP","x":2048,"y":24.4},
{"p":"L2","s":"WE","x":2030,"y":0.5},{"p":"L2","s":"WE","x":2032,"y":1},{"p":"L2","s":"WE","x":2034,"y":1.8},{"p":"L2","s":"WE","x":2036,"y":3.6},{"p":"L2","s":"WE","x":2038,"y":6.6},{"p":"L2","s":"WE","x":2039,"y":8.9},{"p":"L2","s":"WE","x":2040,"y":11},{"p":"L2","s":"WE","x":2041,"y":12.8},{"p":"L2","s":"WE","x":2042,"y":14.7},{"p":"L2","s":"WE","x":2043,"y":16.8},{"p":"L2","s":"WE","x":2044,"y":18.9},{"p":"L2","s":"WE","x":2045,"y":20.8},{"p":"L2","s":"WE","x":2046,"y":22.2},{"p":"L2","s":"WE","x":2047,"y":23.4},{"p":"L2","s":"WE","x":2048,"y":24.3},
{"p":"L2","s":"HW","x":2030,"y":0.3},{"p":"L2","s":"HW","x":2032,"y":0.6},{"p":"L2","s":"HW","x":2034,"y":1.1},{"p":"L2","s":"HW","x":2036,"y":2.2},{"p":"L2","s":"HW","x":2038,"y":4.2},{"p":"L2","s":"HW","x":2039,"y":5.6},{"p":"L2","s":"HW","x":2040,"y":7.2},{"p":"L2","s":"HW","x":2041,"y":9.2},{"p":"L2","s":"HW","x":2042,"y":11.4},{"p":"L2","s":"HW","x":2043,"y":13.6},{"p":"L2","s":"HW","x":2044,"y":16.2},{"p":"L2","s":"HW","x":2045,"y":18.7},{"p":"L2","s":"HW","x":2046,"y":20.3},{"p":"L2","s":"HW","x":2047,"y":21.7},{"p":"L2","s":"HW","x":2048,"y":23.1},
{"p":"L2","s":"WI","x":2030,"y":0.4},{"p":"L2","s":"WI","x":2032,"y":0.8},{"p":"L2","s":"WI","x":2034,"y":1.4},{"p":"L2","s":"WI","x":2036,"y":2.9},{"p":"L2","s":"WI","x":2038,"y":5.9},{"p":"L2","s":"WI","x":2039,"y":8.2},{"p":"L2","s":"WI","x":2040,"y":10.4},{"p":"L2","s":"WI","x":2041,"y":12.3},{"p":"L2","s":"WI","x":2042,"y":14.3},{"p":"L2","s":"WI","x":2043,"y":16.5},{"p":"L2","s":"WI","x":2044,"y":18.7},{"p":"L2","s":"WI","x":2045,"y":20.7},{"p":"L2","s":"WI","x":2046,"y":22.1},{"p":"L2","s":"WI","x":2047,"y":23.3},{"p":"L2","s":"WI","x":2048,"y":24.3},
{"p":"L2","s":"TW","x":2030,"y":0.4},{"p":"L2","s":"TW","x":2032,"y":0.8},{"p":"L2","s":"TW","x":2034,"y":1.5},{"p":"L2","s":"TW","x":2036,"y":3.1},{"p":"L2","s":"TW","x":2038,"y":6.1},{"p":"L2","s":"TW","x":2039,"y":8.4},{"p":"L2","s":"TW","x":2040,"y":10.6},{"p":"L2","s":"TW","x":2041,"y":12.5},{"p":"L2","s":"TW","x":2042,"y":14.5},{"p":"L2","s":"TW","x":2043,"y":16.7},{"p":"L2","s":"TW","x":2044,"y":18.9},{"p":"L2","s":"TW","x":2045,"y":20.9},{"p":"L2","s":"TW","x":2046,"y":22.3},{"p":"L2","s":"TW","x":2047,"y":23.5},{"p":"L2","s":"TW","x":2048,"y":24.5},
{"p":"L2","s":"EE","x":2030,"y":0.3},{"p":"L2","s":"EE","x":2032,"y":0.6},{"p":"L2","s":"EE","x":2034,"y":1},{"p":"L2","s":"EE","x":2036,"y":2},{"p":"L2","s":"EE","x":2038,"y":3.8},{"p":"L2","s":"EE","x":2039,"y":4.9},{"p":"L2","s":"EE","x":2040,"y":6.1},{"p":"L2","s":"EE","x":2041,"y":7.7},{"p":"L2","s":"EE","x":2042,"y":9.7},{"p":"L2","s":"EE","x":2043,"y":12},{"p":"L2","s":"EE","x":2044,"y":14.6},{"p":"L2","s":"EE","x":2045,"y":17.4},{"p":"L2","s":"EE","x":2046,"y":19.8},{"p":"L2","s":"EE","x":2047,"y":21.5},{"p":"L2","s":"EE","x":2048,"y":22.9},
{"p":"L2","s":"HE","x":2030,"y":0.3},{"p":"L2","s":"HE","x":2032,"y":0.6},{"p":"L2","s":"HE","x":2034,"y":1},{"p":"L2","s":"HE","x":2036,"y":2},{"p":"L2","s":"HE","x":2038,"y":3.8},{"p":"L2","s":"HE","x":2039,"y":4.9},{"p":"L2","s":"HE","x":2040,"y":6.1},{"p":"L2","s":"HE","x":2041,"y":7.7},{"p":"L2","s":"HE","x":2042,"y":9.7},{"p":"L2","s":"HE","x":2043,"y":12},{"p":"L2","s":"HE","x":2044,"y":14.6},{"p":"L2","s":"HE","x":2045,"y":17.4},{"p":"L2","s":"HE","x":2046,"y":19.8},{"p":"L2","s":"HE","x":2047,"y":21.5},{"p":"L2","s":"HE","x":2048,"y":22.9},
{"p":"L2","s":"HT","x":2030,"y":0.3},{"p":"L2","s":"HT","x":2032,"y":0.6},{"p":"L2","s":"HT","x":2034,"y":1},{"p":"L2","s":"HT","x":2036,"y":2},{"p":"L2","s":"HT","x":2038,"y":3.8},{"p":"L2","s":"HT","x":2039,"y":4.9},{"p":"L2","s":"HT","x":2040,"y":6.1},{"p":"L2","s":"HT","x":2041,"y":7.7},{"p":"L2","s":"HT","x":2042,"y":9.7},{"p":"L2","s":"HT","x":2043,"y":12},{"p":"L2","s":"HT","x":2044,"y":14.6},{"p":"L2","s":"HT","x":2045,"y":17.4},{"p":"L2","s":"HT","x":2046,"y":19.8},{"p":"L2","s":"HT","x":2047,"y":21.6},{"p":"L2","s":"HT","x":2048,"y":23},
{"p":"L2","s":"SH","x":2030,"y":0.5},{"p":"L2","s":"SH","x":2032,"y":1},{"p":"L2","s":"SH","x":2034,"y":1.8},{"p":"L2","s":"SH","x":2036,"y":3.5},{"p":"L2","s":"SH","x":2038,"y":6.6},{"p":"L2","s":"SH","x":2039,"y":8.8},{"p":"L2","s":"SH","x":2040,"y":10.9},{"p":"L2","s":"SH","x":2041,"y":13},{"p":"L2","s":"SH","x":2042,"y":15.5},{"p":"L2","s":"SH","x":2043,"y":18.3},{"p":"L2","s":"SH","x":2044,"y":21},{"p":"L2","s":"SH","x":2045,"y":23.3},{"p":"L2","s":"SH","x":2046,"y":25.4},{"p":"L2","s":"SH","x":2047,"y":26.7},{"p":"L2","s":"SH","x":2048,"y":27},
{"p":"L2","s":"BR","x":2030,"y":0.5},{"p":"L2","s":"BR","x":2032,"y":0.9},{"p":"L2","s":"BR","x":2034,"y":1.6},{"p":"L2","s":"BR","x":2036,"y":3},{"p":"L2","s":"BR","x":2038,"y":5.6},{"p":"L2","s":"BR","x":2039,"y":7.6},{"p":"L2","s":"BR","x":2040,"y":10},{"p":"L2","s":"BR","x":2041,"y":12.6},{"p":"L2","s":"BR","x":2042,"y":15.2},{"p":"L2","s":"BR","x":2043,"y":18.2},{"p":"L2","s":"BR","x":2044,"y":20.9},{"p":"L2","s":"BR","x":2045,"y":23.3},{"p":"L2","s":"BR","x":2046,"y":25.4},{"p":"L2","s":"BR","x":2047,"y":26.8},{"p":"L2","s":"BR","x":2048,"y":26.9}
]},
"spacing": 41,
"vconcat": [
{"hconcat": [
 {"width": 336, "height": 238,
  "layer": [
   {"transform": [{"filter": "datum.p == 'C1'"}], "mark": {"type": "line", "strokeWidth": 3.2, "interpolate": "monotone"},
    "encoding": {
     "x": {"field": "x", "type": "quantitative", "scale": {"domain": [2025, 2050], "nice": false, "zero": false}, "axis": {"values": [2025,2030,2035,2040,2045,2050], "format": "d", "title": null}},
     "y": {"field": "y", "type": "quantitative", "scale": {"domain": [0, 50], "nice": false}, "axis": {"values": [0,10,20,30,40,50], "title": ["Annual demand", "(kilotonnes)"], "titlePadding": 4}},
     "color": {"field": "s", "type": "nominal", "scale": {"domain": ["EE","HE","HT","BP","HW","WE","WI","TW","SH","BR"], "range": ["#EF8535","#A24FAA","#2BA9E0","#216C8E","#1D7E3E","#EE2B25","#2D5A2B","#1E2B5E","#5DB84B","#8A3A1C"]}, "legend": {"title": null, "orient": "none", "direction": "horizontal", "legendX": 143, "legendY": 606, "columns": 3, "values": ["EE","HE","HT","BP","HW","WE","WI","TW","SH"], "labelExpr": "datum.label == 'EE' ? 'Electric Engagement' : datum.label == 'HE' ? 'Hydrogen Evolution' : datum.label == 'HT' ? 'Holistic Transition' : datum.label == 'BP' ? 'Balanced pathway' : datum.label == 'HW' ? 'Headwinds' : datum.label == 'WE' ? 'Widespread Engagement' : datum.label == 'WI' ? 'Widespread Innovation' : datum.label == 'TW' ? 'Tailwinds' : 'Shift'"}},
     "strokeDash": {"field": "s", "type": "nominal", "scale": {"domain": ["EE","HE","HT","BP","HW","WE","WI","TW","SH","BR"], "range": [[8,5],[8,5],[8,5],[1,0],[1,0],[1,0],[1,0],[1,0],[14,9],[14,9]]}, "legend": {"title": null, "orient": "none", "direction": "horizontal", "legendX": 143, "legendY": 606, "columns": 3, "values": ["EE","HE","HT","BP","HW","WE","WI","TW","SH"], "labelExpr": "datum.label == 'EE' ? 'Electric Engagement' : datum.label == 'HE' ? 'Hydrogen Evolution' : datum.label == 'HT' ? 'Holistic Transition' : datum.label == 'BP' ? 'Balanced pathway' : datum.label == 'HW' ? 'Headwinds' : datum.label == 'WE' ? 'Widespread Engagement' : datum.label == 'WI' ? 'Widespread Innovation' : datum.label == 'TW' ? 'Tailwinds' : 'Shift'"}}
    }},
   {"data": {"values": [{"label": "Cobalt"}]}, "mark": {"type": "text", "align": "left", "baseline": "middle", "fontSize": 18, "color": "#000"},
    "encoding": {"x": {"datum": 2026.55, "type": "quantitative", "scale": {"domain": [2025, 2050], "nice": false, "zero": false}, "axis": {"values": [2025,2030,2035,2040,2045,2050], "format": "d", "title": null}}, "y": {"datum": 45.6, "type": "quantitative", "scale": {"domain": [0, 50], "nice": false}, "axis": {"values": [0,10,20,30,40,50], "title": ["Annual demand", "(kilotonnes)"], "titlePadding": 4}}, "text": {"field": "label"}}}
  ]},
 {"width": 333, "height": 238,
  "layer": [
   {"transform": [{"filter": "datum.p == 'G1'"}], "mark": {"type": "line", "strokeWidth": 3.2, "interpolate": "monotone"},
    "encoding": {
     "x": {"field": "x", "type": "quantitative", "scale": {"domain": [2025, 2050], "nice": false, "zero": false}, "axis": {"values": [2025,2030,2035,2040,2045,2050], "format": "d", "title": null}},
     "y": {"field": "y", "type": "quantitative", "scale": {"domain": [0, 300], "nice": false}, "axis": {"values": [0,100,200,300], "title": null}},
     "color": {"field": "s", "type": "nominal", "scale": {"domain": ["EE","HE","HT","BP","HW","WE","WI","TW","SH","BR"], "range": ["#EF8535","#A24FAA","#2BA9E0","#216C8E","#1D7E3E","#EE2B25","#2D5A2B","#1E2B5E","#5DB84B","#8A3A1C"]}},
     "strokeDash": {"field": "s", "type": "nominal", "scale": {"domain": ["EE","HE","HT","BP","HW","WE","WI","TW","SH","BR"], "range": [[8,5],[8,5],[8,5],[1,0],[1,0],[1,0],[1,0],[1,0],[14,9],[14,9]]}}
    }},
   {"data": {"values": [{"label": "Graphite"}]}, "mark": {"type": "text", "align": "left", "baseline": "middle", "fontSize": 18, "color": "#000"},
    "encoding": {"x": {"datum": 2025.9, "type": "quantitative", "scale": {"domain": [2025, 2050], "nice": false, "zero": false}, "axis": {"values": [2025,2030,2035,2040,2045,2050], "format": "d", "title": null}}, "y": {"datum": 274, "type": "quantitative", "scale": {"domain": [0, 300], "nice": false}, "axis": {"values": [0,100,200,300], "title": null}}, "text": {"field": "label"}}}
  ]},
 {"width": 335, "height": 238,
  "layer": [
   {"transform": [{"filter": "datum.p == 'L1'"}], "mark": {"type": "line", "strokeWidth": 3.2, "interpolate": "monotone"},
    "encoding": {
     "x": {"field": "x", "type": "quantitative", "scale": {"domain": [2025, 2050], "nice": false, "zero": false}, "axis": {"values": [2025,2030,2035,2040,2045,2050], "format": "d", "title": null}},
     "y": {"field": "y", "type": "quantitative", "scale": {"domain": [0, 40], "nice": false}, "axis": {"values": [0,10,20,30,40], "title": null}},
     "color": {"field": "s", "type": "nominal", "scale": {"domain": ["EE","HE","HT","BP","HW","WE","WI","TW","SH","BR"], "range": ["#EF8535","#A24FAA","#2BA9E0","#216C8E","#1D7E3E","#EE2B25","#2D5A2B","#1E2B5E","#5DB84B","#8A3A1C"]}},
     "strokeDash": {"field": "s", "type": "nominal", "scale": {"domain": ["EE","HE","HT","BP","HW","WE","WI","TW","SH","BR"], "range": [[8,5],[8,5],[8,5],[1,0],[1,0],[1,0],[1,0],[1,0],[14,9],[14,9]]}}
    }},
   {"data": {"values": [{"label": "Lithium"}]}, "mark": {"type": "text", "align": "left", "baseline": "middle", "fontSize": 18, "color": "#000"},
    "encoding": {"x": {"datum": 2025.75, "type": "quantitative", "scale": {"domain": [2025, 2050], "nice": false, "zero": false}, "axis": {"values": [2025,2030,2035,2040,2045,2050], "format": "d", "title": null}}, "y": {"datum": 37, "type": "quantitative", "scale": {"domain": [0, 40], "nice": false}, "axis": {"values": [0,10,20,30,40], "title": null}}, "text": {"field": "label"}}}
  ]}
], "spacing": 72, "bounds": "flush"},
{"hconcat": [
 {"width": 336, "height": 238, "transform": [{"filter": "datum.p == 'C2'"}], "mark": {"type": "line", "strokeWidth": 3.2, "interpolate": "monotone"},
  "encoding": {
   "x": {"field": "x", "type": "quantitative", "scale": {"domain": [2025, 2050], "nice": false, "zero": false}, "axis": {"values": [2025,2030,2035,2040,2045,2050], "format": "d", "title": null}},
   "y": {"field": "y", "type": "quantitative", "scale": {"domain": [0, 50], "nice": false}, "axis": {"values": [0,10,20,30,40,50], "title": ["Embodied critical", "minerals in technologies", "at their end of life", "(kilotonnes)"], "titlePadding": 16}},
   "color": {"field": "s", "type": "nominal", "scale": {"domain": ["EE","HE","HT","BP","HW","WE","WI","TW","SH","BR"], "range": ["#EF8535","#A24FAA","#2BA9E0","#216C8E","#1D7E3E","#EE2B25","#2D5A2B","#1E2B5E","#5DB84B","#8A3A1C"]}},
   "strokeDash": {"field": "s", "type": "nominal", "scale": {"domain": ["EE","HE","HT","BP","HW","WE","WI","TW","SH","BR"], "range": [[8,5],[8,5],[8,5],[1,0],[1,0],[1,0],[1,0],[1,0],[14,9],[14,9]]}}
  }},
 {"width": 333, "height": 238, "transform": [{"filter": "datum.p == 'G2'"}], "mark": {"type": "line", "strokeWidth": 3.2, "interpolate": "monotone"},
  "encoding": {
   "x": {"field": "x", "type": "quantitative", "scale": {"domain": [2025, 2050], "nice": false, "zero": false}, "axis": {"values": [2025,2030,2035,2040,2045,2050], "format": "d", "title": null}},
   "y": {"field": "y", "type": "quantitative", "scale": {"domain": [0, 250], "nice": false}, "axis": {"values": [0,50,100,150,200,250], "title": null}},
   "color": {"field": "s", "type": "nominal", "scale": {"domain": ["EE","HE","HT","BP","HW","WE","WI","TW","SH","BR"], "range": ["#EF8535","#A24FAA","#2BA9E0","#216C8E","#1D7E3E","#EE2B25","#2D5A2B","#1E2B5E","#5DB84B","#8A3A1C"]}},
   "strokeDash": {"field": "s", "type": "nominal", "scale": {"domain": ["EE","HE","HT","BP","HW","WE","WI","TW","SH","BR"], "range": [[8,5],[8,5],[8,5],[1,0],[1,0],[1,0],[1,0],[1,0],[14,9],[14,9]]}}
  }},
 {"width": 335, "height": 238, "transform": [{"filter": "datum.p == 'L2'"}], "mark": {"type": "line", "strokeWidth": 3.2, "interpolate": "monotone"},
  "encoding": {
   "x": {"field": "x", "type": "quantitative", "scale": {"domain": [2025, 2050], "nice": false, "zero": false}, "axis": {"values": [2025,2030,2035,2040,2045,2050], "format": "d", "title": null}},
   "y": {"field": "y", "type": "quantitative", "scale": {"domain": [0, 40], "nice": false}, "axis": {"values": [0,10,20,30,40], "title": null}},
   "color": {"field": "s", "type": "nominal", "scale": {"domain": ["EE","HE","HT","BP","HW","WE","WI","TW","SH","BR"], "range": ["#EF8535","#A24FAA","#2BA9E0","#216C8E","#1D7E3E","#EE2B25","#2D5A2B","#1E2B5E","#5DB84B","#8A3A1C"]}},
   "strokeDash": {"field": "s", "type": "nominal", "scale": {"domain": ["EE","HE","HT","BP","HW","WE","WI","TW","SH","BR"], "range": [[8,5],[8,5],[8,5],[1,0],[1,0],[1,0],[1,0],[1,0],[14,9],[14,9]]}}
  }}
], "spacing": 72, "bounds": "flush"}
]
}
